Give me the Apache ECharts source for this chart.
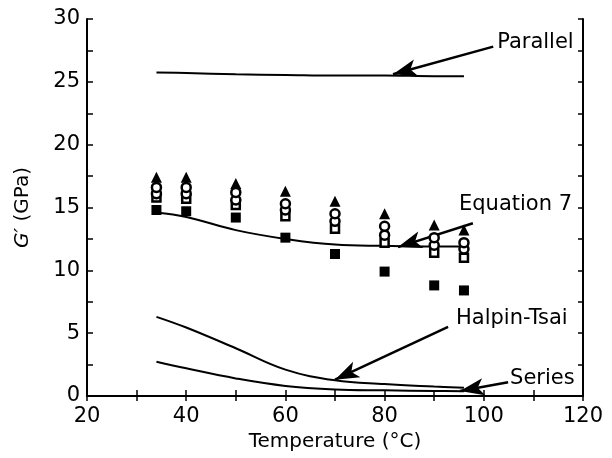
<!DOCTYPE html>
<html><head><meta charset="utf-8">
<script src="https://cdn.jsdelivr.net/npm/echarts@6/dist/echarts.min.js"></script>
<style>html,body{margin:0;padding:0;background:#fff}#c{width:612px;height:458px}</style>
</head><body><div id="c"></div>
<script>
// Measurement temperatures (°C)
var temps = [34, 40, 50, 60, 70, 80, 90, 96];
// Measured G' (GPa)
var filledTriangles = [17.4, 17.4, 16.9, 16.3, 15.5, 14.5, 13.6, 13.2];
var openCirclesA   = [16.6, 16.6, 16.2, 15.3, 14.5, 13.5, 12.6, 12.2];
var openCirclesB   = [16.1, 16.1, 15.6, 14.8, 13.9, 12.8, 12.0, 11.7];
var openSquares    = [15.8, 15.7, 15.2, 14.3, 13.3, 12.2, 11.4, 11.0];
var filledSquares  = [14.8, 14.7, 14.2, 12.6, 11.3, 9.9, 8.8, 8.4];
// Model curves
var curveT     = [34, 40, 50, 60, 70, 80, 90, 96];
var parallel   = [25.75, 25.7, 25.6, 25.55, 25.5, 25.5, 25.45, 25.45];
var equation7  = [14.6, 14.25, 13.2, 12.5, 12.05, 11.95, 11.9, 11.9];
var halpinTsai = [6.3, 5.45, 3.8, 2.1, 1.25, 0.95, 0.75, 0.65];
var seriesModel= [2.73, 2.2, 1.4, 0.8, 0.52, 0.45, 0.4, 0.38];
// Annotations: label, text anchor [T, G'], arrow tail, arrow tip
var annoNames = ['Parallel', 'Equation 7', 'Halpin-Tsai', 'Series'];
var annoText  = [[102.7, 28.1], [95.0, 15.2], [94.4, 6.2], [105.3, 1.35]];
var annoTail  = [[101.9, 27.8], [97.8, 13.75], [92.8, 5.5], [104.9, 1.1]];
var annoTip   = [[81.7, 25.6], [82.7, 11.85], [70.0, 1.3], [95.2, 0.4]];
var xTicks = [20, 40, 60, 80, 100, 120];
var yTicks = [0, 5, 10, 15, 20, 25, 30];

function pairs(xs, ys){ return xs.map(function(x,i){ return [x, ys[i]]; }); }
var font = 'DejaVu Sans, Verdana, sans-serif';

var chart = echarts.init(document.getElementById('c'), null, {renderer:'canvas'});
function curve(data){
  return {type:'line', data: pairs(curveT, data), smooth:0.4, symbol:'none',
    lineStyle:{color:'#000', width:2}, z:3, silent:true};
}
function pts(data, symbol, filled, size){
  return {type:'scatter', data: pairs(temps, data), symbol: symbol, symbolSize: size,
    itemStyle:{color: filled ? '#000' : '#fff', borderColor:'#000', borderWidth: filled?0:2.5, opacity:1}, z:5};
}
var option = {
  animation:false,
  backgroundColor:'#fff',
  grid:{left:87, right:29, top:19, bottom:62},
  xAxis:[{
    type:'value', min:20, max:120, interval:10, position:'bottom',
    name:'Temperature (°C)', nameLocation:'middle', nameGap:35,
    nameTextStyle:{fontFamily:font, fontSize:20, color:'#000'},
    axisLine:{show:true, lineStyle:{color:'#000', width:2}},
    axisTick:{show:true, inside:true, length:6, lineStyle:{color:'#000', width:1.5}},
    axisLabel:{fontFamily:font, fontSize:21, color:'#000', margin:10,
      formatter:function(v){ return xTicks.indexOf(v) >= 0 ? String(v) : ''; }},
    splitLine:{show:false}
  },{
    type:'value', min:20, max:120, interval:10, position:'top',
    axisLine:{show:true, lineStyle:{color:'#000', width:2}},
    axisTick:{show:true, inside:true, length:5, lineStyle:{color:'#000', width:1.5}},
    axisLabel:{show:false}, splitLine:{show:false}
  }],
  yAxis:[{
    type:'value', min:0, max:30, interval:2.5, position:'left',
    name:'{i|G′} (GPa)', nameLocation:'middle', nameGap:54, nameRotate:90,
    nameTextStyle:{fontFamily:font, fontSize:20, color:'#000',
      rich:{i:{fontFamily:font, fontSize:20, fontStyle:'italic', color:'#000'}}},
    axisLine:{show:true, lineStyle:{color:'#000', width:2}},
    axisTick:{show:true, inside:true, length:6, lineStyle:{color:'#000', width:1.5}},
    axisLabel:{fontFamily:font, fontSize:21, color:'#000', margin:7,
      formatter:function(v){ return yTicks.indexOf(v) >= 0 ? String(v) : ''; }},
    splitLine:{show:false}
  },{
    type:'value', min:0, max:30, interval:2.5, position:'right',
    axisLine:{show:true, lineStyle:{color:'#000', width:2}},
    axisTick:{show:true, inside:true, length:5, lineStyle:{color:'#000', width:1.5}},
    axisLabel:{show:false}, splitLine:{show:false}
  }],
  series:[
    curve(parallel), curve(equation7), curve(halpinTsai), curve(seriesModel),
    pts(filledSquares, 'rect', true, 10),
    pts(openSquares, 'rect', false, 8),
    pts(openCirclesB, 'circle', false, 9),
    pts(openCirclesA, 'circle', false, 9),
    pts(filledTriangles, 'triangle', true, 11),
    {type:'scatter', data: annoText.map(function(p,i){ return {name:annoNames[i], value:p}; }),
     symbolSize:0, silent:true, z:6, itemStyle:{opacity:1},
     label:{show:true, position:'right', distance:0, formatter:'{b}', fontFamily:font, fontSize:21, color:'#000', opacity:1},
     markLine:{silent:true, symbol:['none','arrow'], symbolSize:[13,24], animation:false,
       lineStyle:{color:'#000', width:2.5, type:'solid', opacity:1}, itemStyle:{color:'#000', opacity:1}, label:{show:false},
       data: annoTail.map(function(t,i){ return [{coord:t}, {coord:annoTip[i]}]; })}
    }
  ]
};
chart.setOption(option);
</script></body></html>
